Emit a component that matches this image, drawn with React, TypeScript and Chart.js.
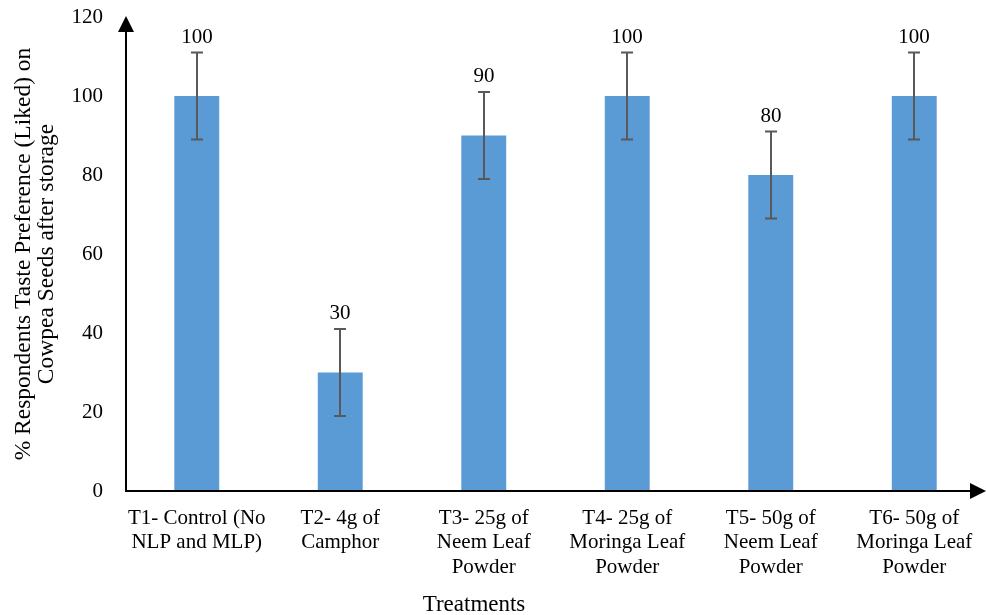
import React, { useEffect, useRef } from 'react';
import { Chart, registerables } from 'chart.js';
Chart.register(...registerables);

const categories: string[][] = [
  ['T1- Control (No', 'NLP and MLP)'],
  ['T2- 4g of', 'Camphor'],
  ['T3- 25g of', 'Neem Leaf', 'Powder'],
  ['T4- 25g of', 'Moringa Leaf', 'Powder'],
  ['T5- 50g of', 'Neem Leaf', 'Powder'],
  ['T6- 50g of', 'Moringa Leaf', 'Powder'],
];
const likedPercent = [100, 30, 90, 100, 80, 100];
const errorMargin = [11, 11, 11, 11, 11, 11];
const yTickValues = [0, 20, 40, 60, 80, 100, 120];
const yTitle = ['% Respondents Taste Preference (Liked) on', 'Cowpea Seeds after storage'];
const xTitle = 'Treatments';

const FONT = '"Liberation Serif", "Times New Roman", serif';

const overlay = {
  id: 'overlay',
  afterDatasetsDraw(chart: any) {
    const { ctx, chartArea, scales } = chart;
    const x = scales.x;
    const y = scales.y;
    ctx.save();
    // error bars
    ctx.strokeStyle = '#595959';
    ctx.lineWidth = 2;
    likedPercent.forEach((v, i) => {
      const px = Math.round(x.getPixelForValue(i));
      const top = y.getPixelForValue(v + errorMargin[i]);
      const bot = y.getPixelForValue(v - errorMargin[i]);
      ctx.beginPath();
      ctx.moveTo(px, top);
      ctx.lineTo(px, bot);
      ctx.moveTo(px - 6, top);
      ctx.lineTo(px + 6, top);
      ctx.moveTo(px - 6, bot);
      ctx.lineTo(px + 6, bot);
      ctx.stroke();
      ctx.fillStyle = '#000';
      ctx.font = '21px ' + FONT;
      ctx.textAlign = 'center';
      ctx.textBaseline = 'alphabetic';
      ctx.fillText(String(v), px, top - 10);
    });
    // axes with arrows
    const ax = chartArea.left + 1;
    const ay = y.getPixelForValue(0);
    ctx.strokeStyle = '#000';
    ctx.fillStyle = '#000';
    ctx.lineWidth = 2;
    ctx.beginPath();
    ctx.moveTo(ax, ay);
    ctx.lineTo(ax, 30);
    ctx.moveTo(ax - 1, ay);
    ctx.lineTo(972, ay);
    ctx.stroke();
    ctx.beginPath();
    ctx.moveTo(ax, 16);
    ctx.lineTo(ax - 8, 32);
    ctx.lineTo(ax + 8, 32);
    ctx.closePath();
    ctx.fill();
    ctx.beginPath();
    ctx.moveTo(986, ay);
    ctx.lineTo(970, ay - 8);
    ctx.lineTo(970, ay + 8);
    ctx.closePath();
    ctx.fill();
    // x title
    ctx.font = '23px ' + FONT;
    ctx.textAlign = 'center';
    ctx.textBaseline = 'alphabetic';
    ctx.fillText(xTitle, chartArea.left + 349, 611);
    ctx.restore();
  },
};

export default function App() {
  const ref = useRef<HTMLCanvasElement | null>(null);
  useEffect(() => {
    if (!ref.current) return;
    const chart = new Chart(ref.current, {
      type: 'bar',
      data: {
        labels: categories,
        datasets: [
          {
            data: likedPercent,
            backgroundColor: '#5B9BD5',
            borderWidth: 0,
            barPercentage: 1,
            categoryPercentage: 0.313,
          },
        ],
      },
      options: {
        animation: false,
        responsive: false,
        maintainAspectRatio: false,
        layout: { padding: { top: 0, right: -2, left: 0, bottom: 0 } },
        plugins: {
          legend: { display: false },
          tooltip: { enabled: false },
          title: { display: false },
        },
        scales: {
          x: {
            grid: { display: false, drawTicks: false },
            border: { display: false },
            ticks: {
              color: '#000',
              font: { family: FONT, size: 21, lineHeight: 1.17 },
              padding: 15,
              maxRotation: 0,
              autoSkip: false,
            },
            afterFit: (s: any) => {
              s.height = 124;
              s.paddingLeft = 0;
              s.paddingRight = 0;
            },
          },
          y: {
            min: 0,
            max: 120,
            afterBuildTicks: (s: any) => {
              s.ticks = yTickValues.map((v) => ({ value: v }));
            },
            grid: { display: false, drawTicks: false },
            border: { display: false },
            ticks: {
              color: '#000',
              font: { family: FONT, size: 21 },
              padding: 22,
            },
            title: {
              display: true,
              text: yTitle,
              color: '#000',
              font: { family: FONT, size: 23.5, lineHeight: 1.0 },
              padding: { top: 12, bottom: 0 },
            },
            afterFit: (s: any) => {
              s.width = 125;
              s.paddingTop = 17;
              s.paddingBottom = 0;
            },
          },
        },
      },
      plugins: [overlay],
    });
    return () => chart.destroy();
  }, []);
  return (
    <div style={{ position: 'absolute', left: 0, top: 0, width: 986, height: 615 }}>
      <canvas ref={ref} width={986} height={615} style={{ display: 'block' }} />
    </div>
  );
}
